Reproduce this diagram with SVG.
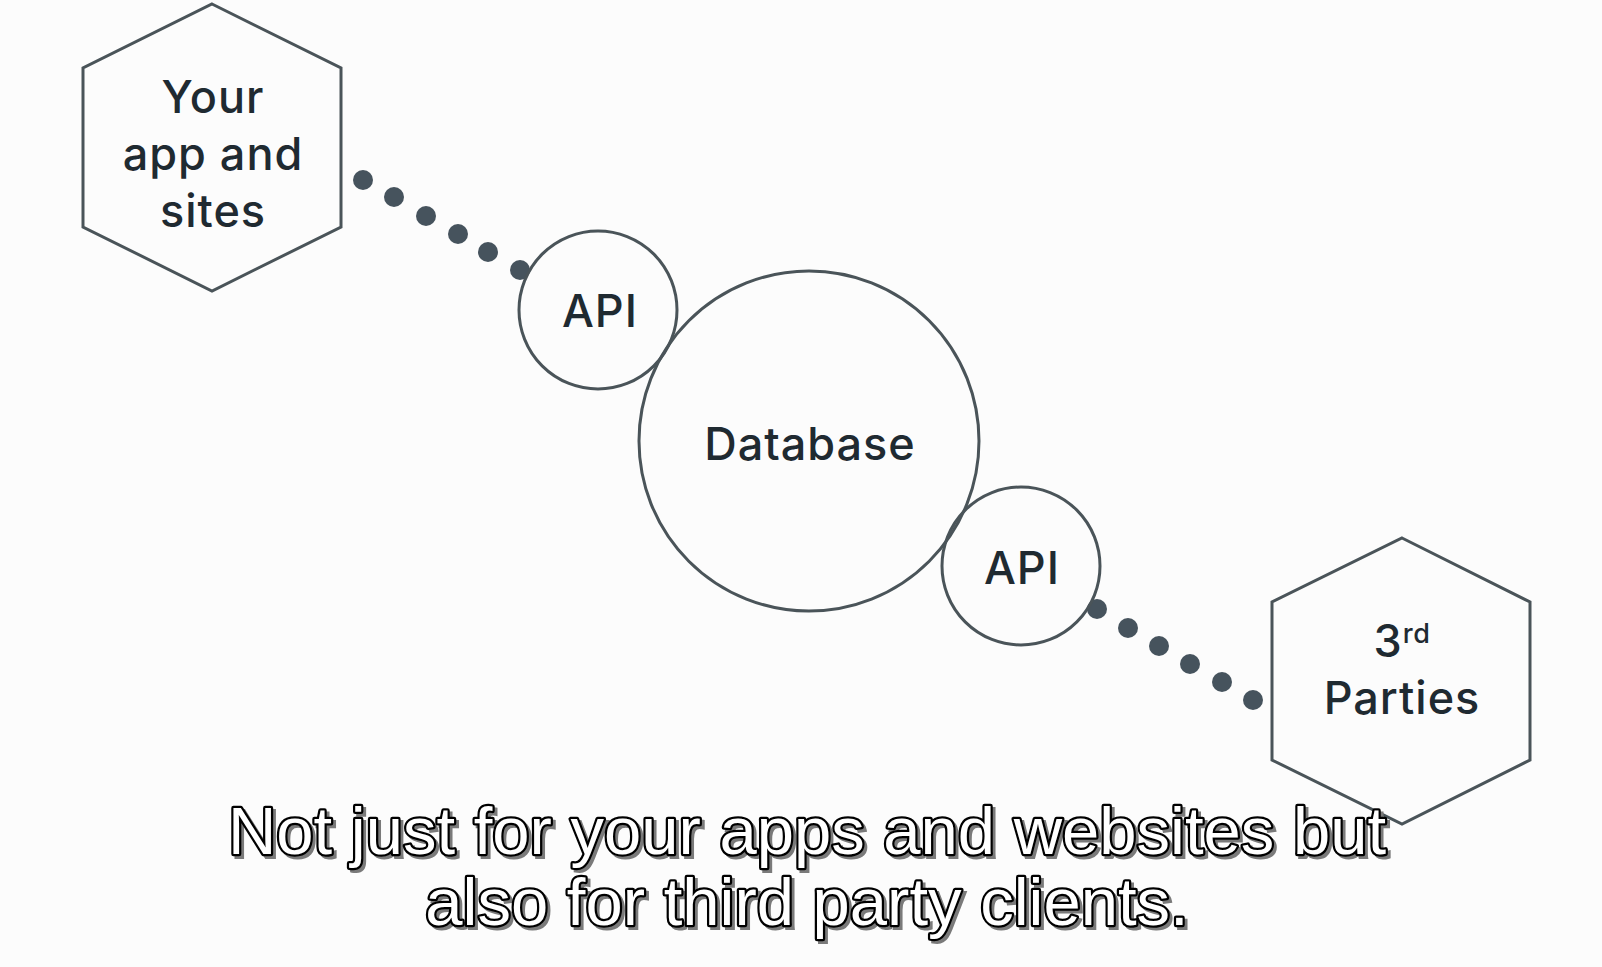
<svg xmlns="http://www.w3.org/2000/svg" width="1602" height="967" viewBox="0 0 1602 967">
<style>
.bg{fill:#fcfcfc}
.shape{fill:none;stroke:#4a5459;stroke-width:3}
.dot{fill:#46535d}
.lbl{font-family:Inter,"Noto Sans",sans-serif;font-size:45px;font-weight:500;letter-spacing:1px;fill:#1f2a31;text-anchor:middle}
.sup{font-size:27px;letter-spacing:0.5px}
.cap{font-family:"Liberation Sans",Arial,sans-serif;font-size:67px;text-anchor:middle}
.capshadow{fill:#7a7a7a;stroke:#7a7a7a;stroke-width:4}
.capmain{fill:#ffffff;stroke:#000000;stroke-width:4.5;paint-order:stroke;stroke-linejoin:round}
</style>
<rect class="bg" x="0" y="0" width="1602" height="967"/>
<g id="connectors">
<g id="link-app-api">
<circle class="dot" cx="363" cy="180" r="10"/>
<circle class="dot" cx="394" cy="197" r="10"/>
<circle class="dot" cx="426" cy="216" r="10"/>
<circle class="dot" cx="458" cy="234" r="10"/>
<circle class="dot" cx="488" cy="252" r="10"/>
<circle class="dot" cx="520" cy="270" r="10"/>
</g>
<g id="link-api-third">
<circle class="dot" cx="1097" cy="609" r="10"/>
<circle class="dot" cx="1128" cy="628" r="10"/>
<circle class="dot" cx="1159" cy="646" r="10"/>
<circle class="dot" cx="1190" cy="664" r="10"/>
<circle class="dot" cx="1222" cy="682" r="10"/>
<circle class="dot" cx="1253" cy="700" r="10"/>
</g>
</g>
<g id="app-sites">
<polygon class="shape" points="212,4 341,68 341,227 212,291 83,227 83,68"/>
<text class="lbl" x="213" y="113">Your</text>
<text class="lbl" x="213" y="170">app and</text>
<text class="lbl" x="213" y="227">sites</text>
</g>
<g id="api-1">
<circle class="shape" cx="598" cy="310" r="79"/>
<text class="lbl" x="600" y="327">API</text>
</g>
<g id="database">
<circle class="shape" cx="809" cy="441" r="170"/>
<text class="lbl" x="810" y="460">Database</text>
</g>
<g id="api-2">
<circle class="shape" cx="1021" cy="566" r="79"/>
<text class="lbl" x="1022" y="584">API</text>
</g>
<g id="third-parties">
<polygon class="shape" points="1402,538 1530,602 1530,760 1402,824 1272,760 1272,602"/>
<text class="lbl" x="1402" y="657">3<tspan class="sup" dy="-14">rd</tspan></text>
<text class="lbl" x="1402" y="714">Parties</text>
</g>
<g id="caption">
<text class="cap capshadow" x="810" y="857">Not just for your apps and websites but</text>
<text class="cap capshadow" x="810" y="928">also for third party clients.</text>
<text class="cap capmain" x="807" y="854">Not just for your apps and websites but</text>
<text class="cap capmain" x="807" y="925">also for third party clients.</text>
</g>
</svg>
